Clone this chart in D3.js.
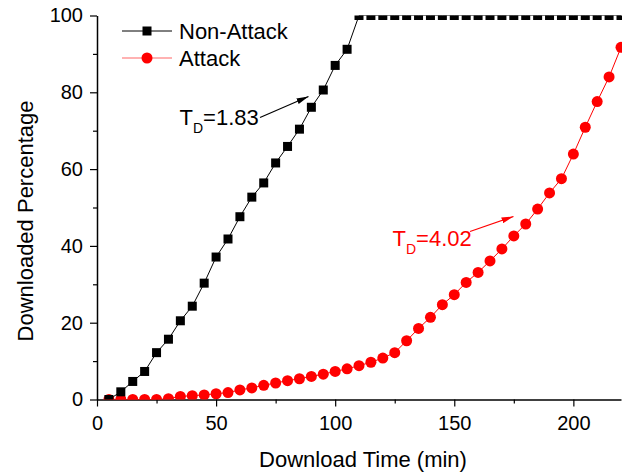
<!DOCTYPE html>
<html>
<head>
<meta charset="utf-8">
<script src="https://cdn.jsdelivr.net/npm/d3@7"></script>
<style>
  body { margin: 0; background: #fff; }
  svg { display: block; font-family: Arial, "Liberation Sans", sans-serif; }
</style>
</head>
<body>
<svg width="626" height="473"></svg>
<script>
"use strict";

// data
const timeNonAttack = [5, 10, 15, 20, 25, 30, 35, 40, 45, 50, 55, 60, 65, 70, 75, 80, 85, 90, 95, 100, 105,
  110, 115, 120, 125, 130, 135, 140, 145, 150, 155, 160, 165, 170, 175, 180, 185, 190, 195, 200, 205, 210, 215, 220];
const pctNonAttack = [0, 2.0, 4.7, 7.3, 12.2, 15.7, 20.5, 24.3, 30.3, 37.1, 41.8, 47.6, 52.7, 56.4, 61.6, 65.9, 70.4, 76.1, 80.6, 87.0, 91.2,
  100, 100, 100, 100, 100, 100, 100, 100, 100, 100, 100, 100, 100, 100, 100, 100, 100, 100, 100, 100, 100, 100, 100];

const timeAttack = [5, 10, 15, 20, 25, 30, 35, 40, 45, 50, 55, 60, 65, 70, 75, 80, 85, 90, 95, 100, 105,
  110, 115, 120, 125, 130, 135, 140, 145, 150, 155, 160, 165, 170, 175, 180, 185, 190, 195, 200, 205, 210, 215, 220];
const pctAttack = [0, 0, 0, 0, 0, 0.2, 0.8, 1.0, 1.2, 1.5, 1.8, 2.5, 3.0, 3.7, 4.3, 4.9, 5.4, 6.0, 6.6, 7.3, 8.0,
  8.8, 9.7, 10.8, 12.2, 15.3, 18.5, 21.4, 24.7, 27.3, 30.5, 33.1, 36.1, 39.2, 42.6, 45.7, 49.6, 53.8, 57.5, 63.9, 70.9, 77.6, 84.0, 91.7];

const xTicks = [0, 50, 100, 150, 200];
const xMinorTicks = [25, 75, 125, 175];
const yTicks = [0, 20, 40, 60, 80, 100];
const yMinorTicks = [10, 30, 50, 70, 90];

const seriesNames = ["Non-Attack", "Attack"];
const seriesColors = ["#000000", "#ff0000"];

const svg = d3.select("svg");
const plotLeft = 97, plotRight = 621, plotTop = 15.5, plotBottom = 399.5;

const x = d3.scaleLinear().domain([0, 220]).range([plotLeft, plotRight]);
const y = d3.scaleLinear().domain([0, 100]).range([plotBottom, plotTop]);

// clip the plot area, markers at 0 and 100 are cut in half in the original
svg.append("defs").append("clipPath")
  .attr("id", "plot")
  .append("rect")
  .attr("x", plotLeft)
  .attr("y", plotTop)
  .attr("width", plotRight - plotLeft + 1)
  .attr("height", plotBottom - plotTop);

// arrow heads
seriesColors.forEach((c, i) => {
  svg.select("defs").append("marker")
    .attr("id", "arrow" + i)
    .attr("viewBox", "0 0 10 10")
    .attr("refX", 10)
    .attr("refY", 5)
    .attr("markerWidth", 12)
    .attr("markerHeight", 6)
    .attr("markerUnits", "userSpaceOnUse")
    .attr("orient", "auto")
    .attr("preserveAspectRatio", "none")
    .append("path")
    .attr("d", "M0,0 L10,5 L0,10 Z")
    .style("fill", c);
});

// axes (major ticks 7px, minor 4px, outside)
const gx = svg.append("g").attr("transform", `translate(0,${plotBottom})`);
gx.call(d3.axisBottom(x).tickValues(xTicks).tickSize(7).tickSizeOuter(0).tickPadding(9));
gx.append("g").call(d3.axisBottom(x).tickValues(xMinorTicks).tickSize(4).tickFormat(""))
  .select(".domain").remove();

const gy = svg.append("g").attr("transform", `translate(${plotLeft},0)`);
gy.call(d3.axisLeft(y).tickValues(yTicks).tickSize(7).tickSizeOuter(0).tickPadding(7));
gy.append("g").call(d3.axisLeft(y).tickValues(yMinorTicks).tickSize(4).tickFormat(""))
  .select(".domain").remove();

svg.selectAll(".domain").style("stroke", "#000").style("stroke-width", "1.5px");
svg.selectAll(".tick line").style("stroke", "#000").style("stroke-width", "1.2px");
svg.selectAll(".tick text").style("font-size", "20px").style("font-family", "Arial, 'Liberation Sans', sans-serif").style("fill", "#000");

// axis titles
svg.append("text")
  .attr("x", 363)
  .attr("y", 467)
  .attr("text-anchor", "middle")
  .style("font-size", "22px")
  .text("Download Time (min)");

svg.append("text")
  .attr("transform", "translate(33,221) rotate(-90)")
  .attr("text-anchor", "middle")
  .style("font-size", "22px")
  .text("Downloaded Percentage");

// lines and markers
const plot = svg.append("g").attr("clip-path", "url(#plot)");
const line = d3.line().x(d => x(d[0])).y(d => y(d[1]));

const nonAttack = d3.zip(timeNonAttack, pctNonAttack);
const attack = d3.zip(timeAttack, pctAttack);

plot.append("path")
  .datum(nonAttack)
  .attr("d", line)
  .style("fill", "none")
  .style("stroke", seriesColors[0])
  .style("stroke-width", "1px");

plot.append("path")
  .datum(attack)
  .attr("d", line)
  .style("fill", "none")
  .style("stroke", seriesColors[1])
  .style("stroke-width", "1px");

plot.selectAll("circle.attack")
  .data(attack)
  .join("circle")
  .attr("class", "attack")
  .attr("cx", d => x(d[0]))
  .attr("cy", d => y(d[1]))
  .attr("r", 5.5)
  .style("fill", seriesColors[1]);

plot.selectAll("rect.nonattack")
  .data(nonAttack)
  .join("rect")
  .attr("class", "nonattack")
  .attr("x", d => x(d[0]) - 4.5)
  .attr("y", d => y(d[1]) - 4.5)
  .attr("width", 9)
  .attr("height", 9)
  .style("fill", seriesColors[0]);

// legend
const legend = svg.append("g");
seriesNames.forEach((name, i) => {
  const ly = 31 + i * 27;
  legend.append("line")
    .attr("x1", 122).attr("x2", 172)
    .attr("y1", ly).attr("y2", ly)
    .style("stroke", seriesColors[i])
    .style("stroke-width", "1px")
    .style("opacity", i === 1 ? 0.6 : 1);
  if (i === 0) {
    legend.append("rect")
      .attr("x", 142.5).attr("y", ly - 4.5)
      .attr("width", 9).attr("height", 9)
      .style("fill", seriesColors[i]);
  } else {
    legend.append("circle")
      .attr("cx", 147).attr("cy", ly)
      .attr("r", 5.5)
      .style("fill", seriesColors[i]);
  }
  legend.append("text")
    .attr("x", 179)
    .attr("y", ly + 7.5)
    .style("font-size", "22px")
    .text(name);
});

// annotations T_D
function annotate(tx, ty, value, color, x1, y1, x2, y2, idx) {
  const t = svg.append("text")
    .attr("x", tx)
    .attr("y", ty)
    .style("font-size", "22px")
    .style("fill", color);
  t.append("tspan").text("T");
  t.append("tspan").attr("dy", 8).style("font-size", "14px").text("D");
  t.append("tspan").attr("dy", -8).text("=" + value);

  svg.append("line")
    .attr("x1", x1).attr("y1", y1)
    .attr("x2", x2).attr("y2", y2)
    .style("stroke", color)
    .style("stroke-width", "1.2px")
    .attr("marker-end", `url(#arrow${idx})`);
}

annotate(179.5, 124.5, "1.83", "#000000", 260, 117.5, 308.5, 96.5, 0);
annotate(392.5, 245.5, "4.02", "#ff0000", 470, 231.5, 513.5, 216.5, 1);
</script>
</body>
</html>
